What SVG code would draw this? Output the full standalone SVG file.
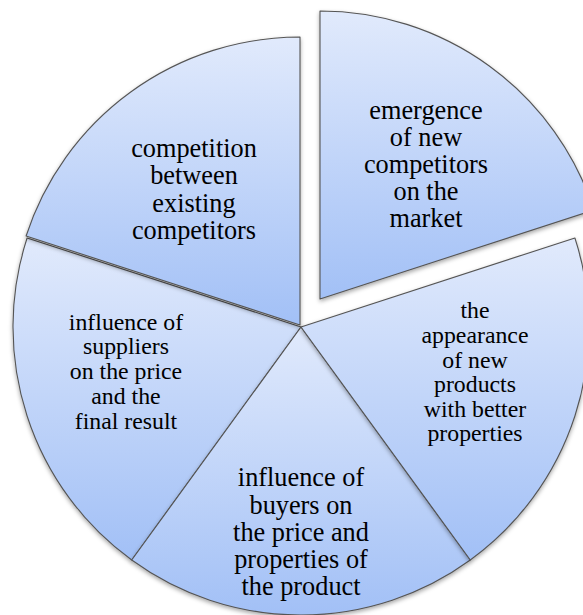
<svg xmlns="http://www.w3.org/2000/svg" width="583" height="615" viewBox="0 0 583 615">
<defs>
<linearGradient id="g" x1="0" y1="0" x2="0" y2="1">
<stop offset="0" stop-color="#e1eafc"/>
<stop offset="1" stop-color="#a2c0f6"/>
</linearGradient>
<filter id="sh" x="-10%" y="-10%" width="120%" height="120%">
<feGaussianBlur in="SourceAlpha" stdDeviation="2"/>
<feOffset dx="0" dy="2" result="b"/>
<feFlood flood-color="#000" flood-opacity="0.35"/>
<feComposite in2="b" operator="in"/>
<feMerge><feMergeNode/><feMergeNode in="SourceGraphic"/></feMerge>
</filter>
</defs>
<style>
.seg{fill:url(#g);stroke:#555;stroke-width:1.1;stroke-linejoin:round;filter:url(#sh)}
</style>
<rect width="583" height="615" fill="#fff"/>
<g id="suppliers">
<path class="seg" d="M301,327 L131.71,560 A288,288 0 0,1 27.09,238 Z"/>
<text font-family="Liberation Serif, serif" font-size="23.8" text-anchor="middle" x="126" y="330">influence of</text>
<text font-family="Liberation Serif, serif" font-size="23.8" text-anchor="middle" x="126" y="354">suppliers</text>
<text font-family="Liberation Serif, serif" font-size="23.8" text-anchor="middle" x="126" y="379">on the price</text>
<text font-family="Liberation Serif, serif" font-size="23.8" text-anchor="middle" x="126" y="404">and the</text>
<text font-family="Liberation Serif, serif" font-size="23.8" text-anchor="middle" x="126" y="429">final result</text>
</g>
<g id="buyers">
<path class="seg" d="M301,327 L470.29,560 A288,288 0 0,1 131.71,560 Z"/>
<text font-family="Liberation Serif, serif" font-size="26.3" text-anchor="middle" x="301" y="486">influence of</text>
<text font-family="Liberation Serif, serif" font-size="26.3" text-anchor="middle" x="301" y="514">buyers on</text>
<text font-family="Liberation Serif, serif" font-size="26.3" text-anchor="middle" x="301" y="541">the price and</text>
<text font-family="Liberation Serif, serif" font-size="26.3" text-anchor="middle" x="301" y="568">properties of</text>
<text font-family="Liberation Serif, serif" font-size="26.3" text-anchor="middle" x="301" y="595">the product</text>
</g>
<g id="appearance">
<path class="seg" d="M301,327 L574.91,238 A288,288 0 0,1 470.29,560 Z"/>
<text font-family="Liberation Serif, serif" font-size="23.8" text-anchor="middle" x="475" y="318">the</text>
<text font-family="Liberation Serif, serif" font-size="23.8" text-anchor="middle" x="475" y="343">appearance</text>
<text font-family="Liberation Serif, serif" font-size="23.8" text-anchor="middle" x="475" y="368">of new</text>
<text font-family="Liberation Serif, serif" font-size="23.8" text-anchor="middle" x="475" y="392">products</text>
<text font-family="Liberation Serif, serif" font-size="23.8" text-anchor="middle" x="475" y="417">with better</text>
<text font-family="Liberation Serif, serif" font-size="23.8" text-anchor="middle" x="475" y="441">properties</text>
</g>
<g id="competition">
<path class="seg" d="M300,325 L26.09,236 A288,288 0 0,1 300,37 Z"/>
<text font-family="Liberation Serif, serif" font-size="26.3" text-anchor="middle" x="194" y="157">competition</text>
<text font-family="Liberation Serif, serif" font-size="26.3" text-anchor="middle" x="194" y="184">between</text>
<text font-family="Liberation Serif, serif" font-size="26.3" text-anchor="middle" x="194" y="212">existing</text>
<text font-family="Liberation Serif, serif" font-size="26.3" text-anchor="middle" x="194" y="239">competitors</text>
</g>
<g id="emergence">
<path class="seg" d="M320,299 L320,11 A288,288 0 0,1 593.91,210 Z"/>
<text font-family="Liberation Serif, serif" font-size="26.3" text-anchor="middle" x="426" y="119">emergence</text>
<text font-family="Liberation Serif, serif" font-size="26.3" text-anchor="middle" x="426" y="146">of new</text>
<text font-family="Liberation Serif, serif" font-size="26.3" text-anchor="middle" x="426" y="173">competitors</text>
<text font-family="Liberation Serif, serif" font-size="26.3" text-anchor="middle" x="426" y="200">on the</text>
<text font-family="Liberation Serif, serif" font-size="26.3" text-anchor="middle" x="426" y="227">market</text>
</g>
</svg>
